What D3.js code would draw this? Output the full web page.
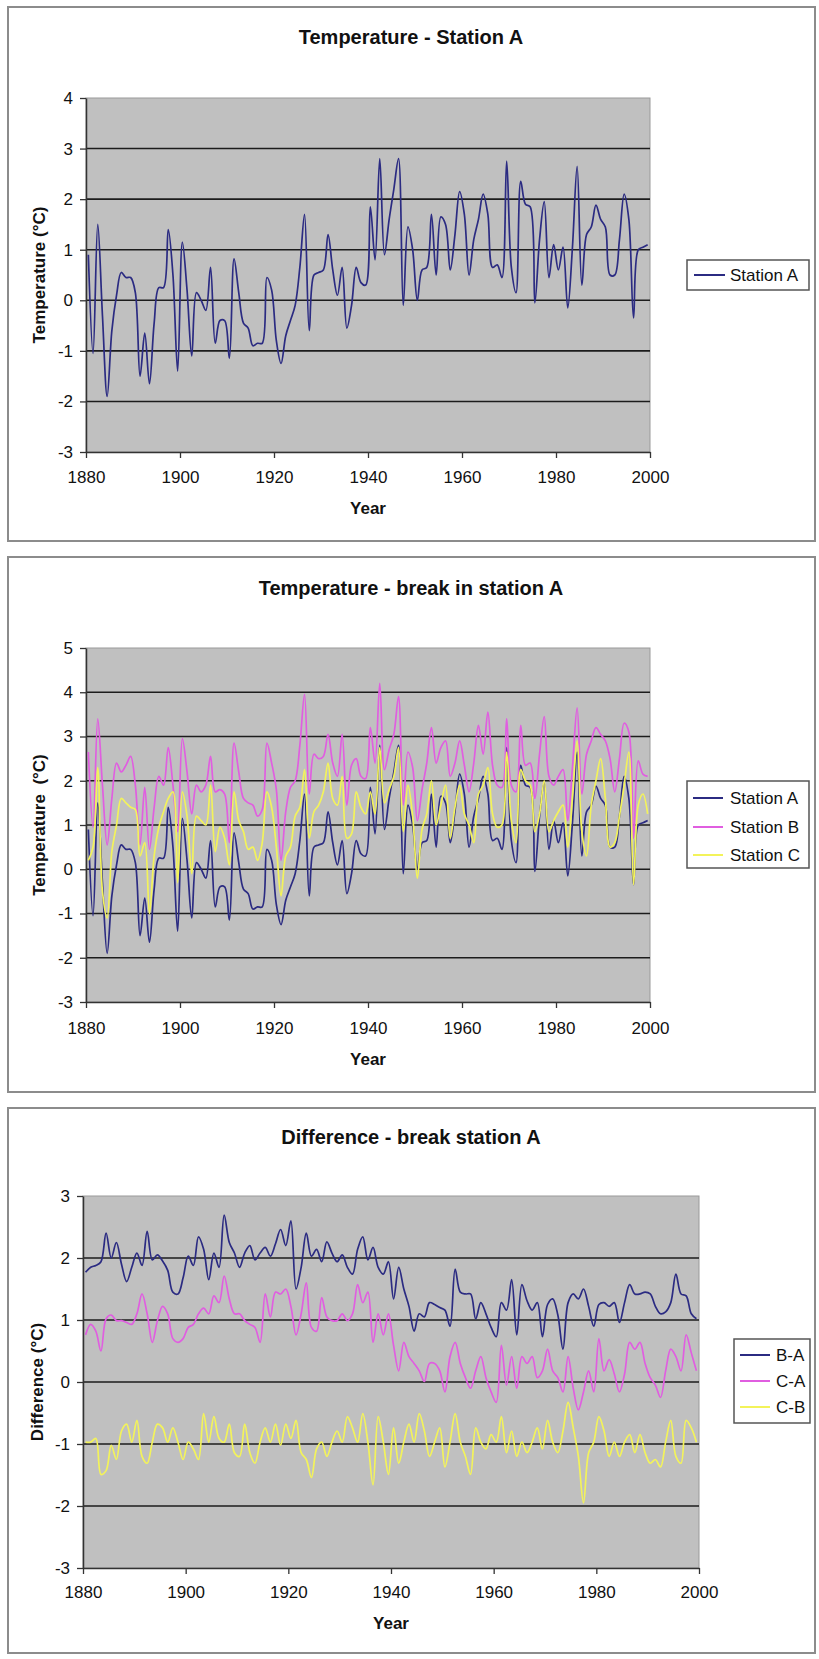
<!DOCTYPE html>
<html>
<head>
<meta charset="utf-8">
<script src="https://cdn.jsdelivr.net/npm/d3@7/dist/d3.min.js"></script>
<style>
  body { margin: 0; background: #fff; }
  text { font-family: "Liberation Sans", Arial, sans-serif; fill: #111; }
</style>
</head>
<body>
<svg id="chart" width="819" height="1659"></svg>
<script>
// years 1880..1999, one value per year
var years = d3.range(1880, 2000);
var xTicks = [1880, 1900, 1920, 1940, 1960, 1980, 2000];
var yTicksTemp1 = [-3, -2, -1, 0, 1, 2, 3, 4];
var yTicksTemp2 = [-3, -2, -1, 0, 1, 2, 3, 4, 5];
var yTicksDiff = [-3, -2, -1, 0, 1, 2, 3];

var stationA = [
    0.9, -1.05, 1.5, -0.3, -1.9, -0.6, 0.1, 0.55, 0.45, 0.45,
    0.15, -1.5, -0.65, -1.65, -0.45, 0.25, 0.25, 1.4, 0.5, -1.4,
    1.15, 0.2, -1.1, 0.15, 0.0, -0.2, 0.65, -0.85, -0.4, -0.4,
    -1.15, 0.82, 0.15, -0.45, -0.55, -0.9, -0.85, -0.85, 0.45, 0.2,
    -0.8, -1.25, -0.7, -0.4, -0.1, 0.65, 1.7, -0.6, 0.5, 0.55,
    0.6, 1.3, 0.6, 0.1, 0.65, -0.55, -0.1, 0.65, 0.35, 0.3,
    1.85, 0.8, 2.8, 0.9, 1.6, 2.2, 2.8, -0.1, 1.45, 1.0,
    0.0, 0.6, 0.65, 1.7, 0.5, 1.65, 1.5, 0.6, 1.3, 2.15,
    1.7, 0.5, 1.2, 1.6, 2.1, 1.7, 0.65, 0.7, 0.45, 2.75,
    0.65, 0.15, 2.35, 1.9, 1.85, -0.05, 1.2, 1.95, 0.45, 1.1,
    0.6, 1.05, -0.15, 1.05, 2.65, 0.3, 1.3, 1.45, 1.88, 1.6,
    1.45, 0.5, 0.5, 1.2, 2.1, 1.6, -0.35, 1.0, 1.05, 1.1
];

var stationB = [
    2.65, 0.95, 3.4, 1.9, 0.55, 1.6, 2.4, 2.2, 2.35, 2.55,
    1.9, 0.55, 1.85, 0.45, 1.4, 2.1, 1.9, 2.75, 1.9, 0.85,
    2.95, 2.2, 1.25, 1.9, 1.75, 1.9, 2.55, 1.75, 1.8, 1.7,
    0.6, 2.85, 2.2, 1.6, 1.5, 1.45, 1.2, 1.35, 2.85, 2.4,
    1.8, 0.2, 1.3, 1.85, 2.0, 2.8, 3.95, 1.7, 2.6, 2.5,
    2.55, 3.05, 2.4, 2.1, 3.05, 1.45, 2.35, 2.5, 2.1, 2.05,
    3.2, 2.4, 4.2, 2.25, 2.7, 3.05, 3.9, 1.45, 2.65, 2.3,
    1.1, 1.8, 2.4, 3.2, 2.4, 2.75, 2.9, 2.1, 2.4, 2.9,
    2.35, 1.75, 2.4, 3.25, 2.6, 3.55, 2.35, 1.9, 1.85, 3.4,
    1.9, 1.75, 3.25, 2.35, 2.4, 1.6, 2.6, 3.45, 2.1, 1.9,
    2.1, 2.25, 1.1, 2.3, 3.65, 1.7, 2.6, 2.9, 3.2, 3.05,
    2.9, 2.5, 1.75, 2.5, 3.3, 3.1, 0.7, 2.45, 2.15, 2.1
];

var stationC = [
    0.2, 0.5, 2.3, -0.5, -1.1, 0.4, 1.0, 1.6, 1.5, 1.4,
    1.35, 0.3, 0.6, -1.0, 0.3, 0.95, 1.3, 1.6, 1.75, -0.3,
    1.75, 1.2, -0.1, 1.2, 1.1, 1.0, 1.9, 0.4, 0.95, 0.7,
    0.1, 1.75, 1.1, 0.85, 0.45, 0.5, 0.2, 0.6, 1.75, 1.4,
    0.5, -0.6, 0.3, 0.5, 1.2, 1.4, 2.25, 0.7, 1.3, 1.45,
    1.75, 2.4, 1.6, 1.45, 2.1, 0.7, 0.8, 1.75, 1.4, 1.25,
    1.75, 1.25, 2.75, 1.5, 1.8, 2.1, 2.75, 0.85, 1.9, 1.2,
    -0.2, 0.9, 1.25, 2.0, 1.0, 1.45, 1.9, 0.7, 1.4, 1.9,
    1.25, 1.0, 0.6, 1.7, 1.9, 2.3, 1.25, 0.95, 1.0, 2.65,
    1.1, 0.6, 2.25, 2.0, 1.9, 0.85, 1.25, 2.0, 0.85, 1.1,
    1.3, 1.45, 0.5, 1.6, 2.9, 0.85, 0.3, 1.45, 2.0, 2.5,
    1.6, 0.5, 0.6, 1.2, 1.9, 2.65, -0.35, 1.45, 1.7, 1.25
];

var diffBA = [
    1.77, 1.85, 1.88, 1.94, 2.4, 2.0, 2.25, 1.9, 1.62, 1.85,
    2.08, 1.88, 2.43, 1.97, 2.05, 1.95, 1.8, 1.45, 1.42, 1.68,
    2.03, 1.88, 2.34, 2.14, 1.65, 2.08, 1.85, 2.69, 2.25, 2.08,
    1.85, 2.08, 2.2, 1.97, 2.08, 2.17, 2.03, 2.23, 2.46, 2.2,
    2.6, 1.5, 1.85, 2.4, 2.03, 2.14, 1.94, 2.26, 2.08, 1.94,
    2.05, 1.85, 1.74, 2.14, 2.34, 1.97, 2.17, 1.85, 1.74, 1.94,
    1.34, 1.85, 1.5, 1.22, 0.82, 1.1, 1.05, 1.28, 1.25, 1.2,
    1.16, 0.9, 1.82, 1.45, 1.42, 1.42, 1.02, 1.28, 1.1, 0.88,
    0.73, 1.28, 1.16, 1.65, 0.76, 1.57, 1.31, 1.16, 1.28, 0.73,
    1.25, 1.34, 1.08, 0.53, 1.28, 1.42, 1.34, 1.5, 1.22, 0.9,
    1.25, 1.28, 1.22, 1.28, 0.96, 1.28, 1.57, 1.42, 1.42, 1.45,
    1.42, 1.22, 1.1, 1.13, 1.28, 1.74, 1.42, 1.39, 1.1, 1.02
];

var diffCA = [
    0.76, 0.93, 0.82, 0.5, 1.02, 1.08, 0.99, 0.99, 0.96, 0.93,
    1.1, 1.42, 1.1, 0.64, 0.99, 1.22, 1.1, 0.7, 0.64, 0.7,
    0.88, 0.93, 1.1, 1.19, 1.1, 1.39, 1.28, 1.71, 1.34, 1.1,
    1.1, 0.99, 0.93, 0.88, 0.64, 1.42, 1.05, 1.45, 1.42, 1.5,
    1.22, 0.76, 1.1, 1.6, 0.88, 0.82, 1.36, 1.05, 0.99, 0.99,
    1.1, 0.99, 1.1, 1.57, 1.28, 1.45, 0.64, 1.1, 0.76, 1.1,
    0.59, 0.18, 0.64, 0.41, 0.3, 0.18, 0.01, 0.3, 0.3, 0.18,
    -0.16, 0.41, 0.64, 0.3, 0.07, -0.1, 0.18, 0.41, 0.07, -0.16,
    -0.33, 0.59, -0.05, 0.41, -0.1, 0.41, 0.3, 0.41, 0.07, 0.18,
    0.53, 0.18, 0.07, -0.16, 0.41, -0.1, -0.45, -0.16, 0.18, -0.16,
    0.7, 0.18, 0.36, 0.13, -0.16, 0.13, 0.64, 0.53, 0.64, 0.3,
    0.07, -0.05, -0.25, 0.18, 0.53, 0.41, 0.18, 0.76, 0.47, 0.18
];

var diffCB = [
    -0.97, -0.97, -0.91, -1.49, -1.43, -1.02, -1.25, -0.79, -0.68, -0.97,
    -0.62, -1.2, -1.31, -0.97, -0.68, -0.74, -0.97, -0.74, -0.97, -1.25,
    -0.97, -1.08, -1.25, -0.51, -0.97, -0.56, -0.91, -0.97, -0.68, -1.14,
    -1.2, -0.68, -1.14, -1.31, -0.97, -0.74, -0.97, -0.68, -1.02, -0.68,
    -0.91, -0.62, -1.14, -1.25, -1.54, -1.08, -0.97, -1.2, -0.97, -0.79,
    -0.97, -0.56, -0.74, -0.97, -0.51, -0.97, -1.66, -0.56, -0.97, -1.49,
    -0.74, -1.31, -0.97, -0.68, -0.97, -0.51, -0.79, -1.2, -0.97, -0.74,
    -1.37, -0.97, -0.51, -0.97, -1.2, -1.49, -0.74, -0.97, -1.08, -0.85,
    -0.97, -0.56, -1.14, -0.79, -1.2, -0.97, -1.14, -0.97, -0.74, -1.08,
    -0.62, -0.97, -1.14, -0.79, -0.33, -0.74, -1.2, -1.95, -1.14, -0.97,
    -0.56, -0.79, -1.2, -0.97, -1.2, -0.97, -0.85, -1.14, -0.85, -1.14,
    -1.31, -1.25, -1.37, -0.97, -0.62, -1.2, -1.31, -0.62, -0.74, -0.97
];

var navy = "#2b2b82";
var magenta = "#e05ee0";
var yellow = "#f3f35a";

var svg = d3.select("#chart");

var charts = [
    {
        top: 7, bottom: 541, title: "Temperature - Station A", titleY: 37,
        left: 86, right: 650, plotTop: 98, plotBottom: 452,
        yDomain: [-3, 4], yTicks: yTicksTemp1, yLabel: "Temperature (°C)", yLabelX: 39,
        xLabelY: 477, yearY: 508,
        series: [{ name: "Station A", values: stationA, color: navy }],
        legend: { x: 687, y: 260, w: 122, h: 30, lx1: 694, lx2: 725, tx: 730, rows: [275] }
    },
    {
        top: 557, bottom: 1092, title: "Temperature - break in station A", titleY: 588,
        left: 86, right: 650, plotTop: 648, plotBottom: 1002,
        yDomain: [-3, 5], yTicks: yTicksTemp2, yLabel: "Temperature  (°C)", yLabelX: 39,
        xLabelY: 1028, yearY: 1059,
        series: [
            { name: "Station A", values: stationA, color: navy },
            { name: "Station B", values: stationB, color: magenta },
            { name: "Station C", values: stationC, color: yellow }
        ],
        legend: { x: 687, y: 781, w: 122, h: 87, lx1: 693, lx2: 723, tx: 730, rows: [798, 827, 855] }
    },
    {
        top: 1108, bottom: 1653, title: "Difference - break station A", titleY: 1137,
        left: 83, right: 699, plotTop: 1196, plotBottom: 1568,
        yDomain: [-3, 3], yTicks: yTicksDiff, yLabel: "Difference (°C)", yLabelX: 37,
        xLabelY: 1592, yearY: 1623,
        series: [
            { name: "B-A", values: diffBA, color: navy },
            { name: "C-A", values: diffCA, color: magenta },
            { name: "C-B", values: diffCB, color: yellow }
        ],
        legend: { x: 734, y: 1339, w: 76, h: 84, lx1: 740, lx2: 770, tx: 776, rows: [1355, 1381, 1407] }
    }
];

charts.forEach(drawChart);

function drawChart(c) {
    var g = svg.append("g");

    // outer frame
    g.append("rect")
        .attr("x", 8).attr("y", c.top)
        .attr("width", 807).attr("height", c.bottom - c.top)
        .attr("fill", "#fff")
        .attr("stroke", "#8c8c8c")
        .attr("stroke-width", 2);

    g.append("text")
        .attr("x", 411).attr("y", c.titleY)
        .attr("text-anchor", "middle")
        .attr("dominant-baseline", "central")
        .style("font-size", "20px")
        .style("font-weight", "bold")
        .text(c.title);

    var x = d3.scaleLinear().domain([1880, 2000]).range([c.left, c.right]);
    var y = d3.scaleLinear().domain(c.yDomain).range([c.plotBottom, c.plotTop]);

    // plot area
    g.append("rect")
        .attr("x", c.left).attr("y", c.plotTop)
        .attr("width", c.right - c.left).attr("height", c.plotBottom - c.plotTop)
        .attr("fill", "#c0c0c0")
        .attr("stroke", "#9a9a9a")
        .attr("stroke-width", 1);

    // gridlines, not on the top and bottom edge
    g.selectAll(".grid")
        .data(c.yTicks.slice(1, -1))
        .enter()
        .append("line")
        .attr("x1", c.left).attr("x2", c.right)
        .attr("y1", function (d) { return y(d); })
        .attr("y2", function (d) { return y(d); })
        .attr("stroke", "#1c1c1c")
        .attr("stroke-width", 1.6);

    // axes
    var yAxis = g.append("g")
        .attr("transform", "translate(" + c.left + ",0)")
        .call(d3.axisLeft(y).tickValues(c.yTicks).tickSizeInner(6).tickSizeOuter(0)
            .tickPadding(7).tickFormat(function (d) { return String(d); }));

    var xAxis = g.append("g")
        .attr("transform", "translate(0," + c.plotBottom + ")")
        .call(d3.axisBottom(x).tickValues(xTicks).tickSizeInner(6).tickSizeOuter(0)
            .tickFormat(function (d) { return String(d); }));

    [yAxis, xAxis].forEach(function (a) {
        a.select(".domain").attr("stroke", "#333").attr("stroke-width", 1.5);
        a.selectAll(".tick line").attr("stroke", "#333").attr("stroke-width", 1.3);
        a.selectAll("text")
            .style("font-size", "17px")
            .style("font-family", "'Liberation Sans', Arial, sans-serif")
            .attr("fill", "#222");
    });

    xAxis.selectAll("text")
        .attr("y", c.xLabelY - c.plotBottom)
        .attr("dy", "0.35em");

    // axis titles
    g.append("text")
        .attr("x", (c.left + c.right) / 2).attr("y", c.yearY)
        .attr("text-anchor", "middle")
        .attr("dominant-baseline", "central")
        .style("font-size", "17px")
        .style("font-weight", "bold")
        .text("Year");

    g.append("text")
        .attr("transform", "translate(" + c.yLabelX + "," + (c.plotTop + c.plotBottom) / 2 + ") rotate(-90)")
        .attr("text-anchor", "middle")
        .attr("dominant-baseline", "central")
        .style("font-size", "17px")
        .style("font-weight", "bold")
        .style("white-space", "pre")
        .text(c.yLabel);

    // series, data points sit in the middle of each year
    var line = d3.line()
        .x(function (d, i) { return x(years[i] + 0.5); })
        .y(function (d) { return y(d); })
        .curve(d3.curveCatmullRom.alpha(0.5));

    c.series.forEach(function (s) {
        g.append("path")
            .datum(s.values)
            .attr("d", line)
            .attr("fill", "none")
            .attr("stroke", s.color)
            .attr("stroke-width", 1.7)
            .attr("stroke-linejoin", "round");
    });

    // legend
    var L = c.legend;
    g.append("rect")
        .attr("x", L.x).attr("y", L.y)
        .attr("width", L.w).attr("height", L.h)
        .attr("fill", "#fff")
        .attr("stroke", "#555")
        .attr("stroke-width", 1.5);

    var item = g.selectAll(".leg")
        .data(c.series)
        .enter()
        .append("g")
        .attr("transform", function (d, i) { return "translate(0," + L.rows[i] + ")"; });

    item.append("line")
        .attr("x1", L.lx1).attr("x2", L.lx2)
        .attr("stroke", function (d) { return d.color; })
        .attr("stroke-width", 2);

    item.append("text")
        .attr("x", L.tx)
        .attr("dominant-baseline", "central")
        .style("font-size", "17px")
        .text(function (d) { return d.name; });
}
</script>
</body>
</html>
